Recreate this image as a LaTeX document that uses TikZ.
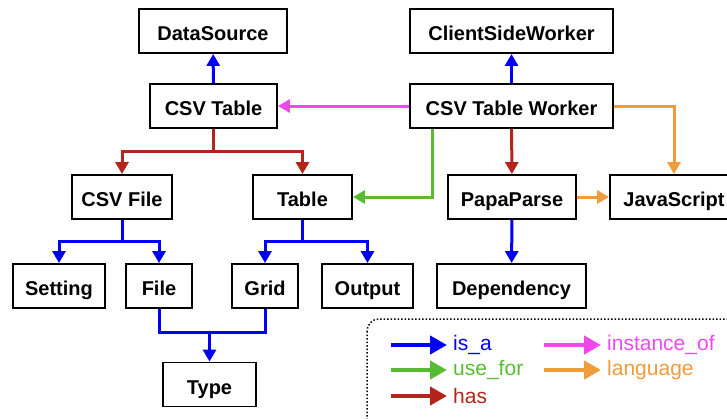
\documentclass[tikz,border=0pt]{standalone}
\usepackage{fontspec}
\setmainfont{Liberation Sans}
\usetikzlibrary{arrows.meta}
\definecolor{isacol}{RGB}{0,0,250}
\definecolor{usecol}{RGB}{88,188,50}
\definecolor{hascol}{RGB}{180,36,26}
\definecolor{instcol}{RGB}{240,72,240}
\definecolor{langcol}{RGB}{240,155,60}
\tikzset{
  box/.style={draw, line width=1.9pt, minimum height=44pt, inner sep=0pt,
    text height=22pt, text depth=3pt,
    font=\fontsize{20}{24}\selectfont\bfseries},
  rel/.style={line width=3pt, -{Triangle[length=12pt,width=13pt]}},
  isa/.style={rel, isacol},
  usefor/.style={rel, usecol},
  has/.style={rel, hascol},
  inst/.style={rel, instcol},
  lang/.style={rel, langcol},
  key/.style={anchor=west, inner sep=0pt, font=\fontsize{21}{25}\selectfont},
  keyarrow/.style={line width=4.5pt, -{Triangle[length=17pt,width=18pt]}},
}
\begin{document}
\begin{tikzpicture}[x=1pt,y=-1pt]
  \clip (0,0) rectangle (727,418);
  % boxes
  \node[box, minimum width=148pt] (ds) at (213,31) {DataSource};
  \node[box, minimum width=127pt] (ct) at (213.5,106) {CSV Table};
  \node[box, minimum width=203pt] (csw) at (511.5,31) {ClientSideWorker};
  \node[box, minimum width=203pt] (ctw) at (511.5,106) {CSV Table Worker};
  \node[box, minimum width=100pt] (csvf) at (122,197) {CSV File};
  \node[box, minimum width=99pt] (tab) at (302.5,197) {Table};
  \node[box, minimum width=128pt] (pp) at (512,197) {PapaParse};
  \node[box, minimum width=128pt] (js) at (674,197) {JavaScript};
  \node[box, minimum width=92pt] (set) at (59,286) {Setting};
  \node[box, minimum width=66pt] (file) at (159,286) {File};
  \node[box, minimum width=66pt] (grid) at (265,286) {Grid};
  \node[box, minimum width=91pt] (out) at (367.5,286) {Output};
  \node[box, minimum width=149pt] (dep) at (511.5,286) {Dependency};
  \node[box, minimum width=93pt] (type) at (209.5,384.5) {Type};

  % relations
  \draw[isa] (ct) -- (ds);
  \draw[isa] (ctw) -- (csw);
  \draw[inst] (ctw) -- (ct);
  \draw[has] (ct.south) -- ++(0,23) coordinate (b1) -| (csvf.north);
  \draw[has] (b1) -| (tab.north);
  \draw[has] (ctw) -- (pp);
  \draw[usefor] (ctw.south -| 432,0) |- (tab.east);
  \draw[lang] (ctw.east) -| (js.north);
  \draw[lang] (pp) -- (js);
  \draw[isa] (pp) -- (dep);
  \draw[isa] (csvf.south) -- ++(0,22) coordinate (b2) -| (set.north);
  \draw[isa] (b2) -| (file.north);
  \draw[isa] (tab.south) -- ++(0,22) coordinate (b3) -| (grid.north);
  \draw[isa] (b3) -| (out.north);
  \draw[isacol, line width=3pt] (file.south) |- ++(0,24) coordinate (b4) -| (grid.south);
  \draw[isa] (type.north |- b4) -- (type.north);

  % legend
  \draw[dotted, line width=1.5pt, rounded corners=12pt] (367,319) rectangle (745,440);
  \node[key, isacol] (kisa) at (453,345) {is\_a};
  \node[key, usecol] (kuse) at (453,370) {use\_for};
  \node[key, hascol] (khas) at (453,396) {has};
  \node[key, instcol] (kinst) at (607,345) {instance\_of};
  \node[key, langcol] (klang) at (607,370) {language};
  \draw[keyarrow, isacol] (kisa.west) ++(-62,0) -- ++(56,0);
  \draw[keyarrow, usecol] (kuse.west) ++(-62,0) -- ++(56,0);
  \draw[keyarrow, hascol] (khas.west) ++(-62,0) -- ++(56,0);
  \draw[keyarrow, instcol] (kinst.west) ++(-63,0) -- ++(57,0);
  \draw[keyarrow, langcol] (klang.west) ++(-63,0) -- ++(57,0);
\end{tikzpicture}
\end{document}
